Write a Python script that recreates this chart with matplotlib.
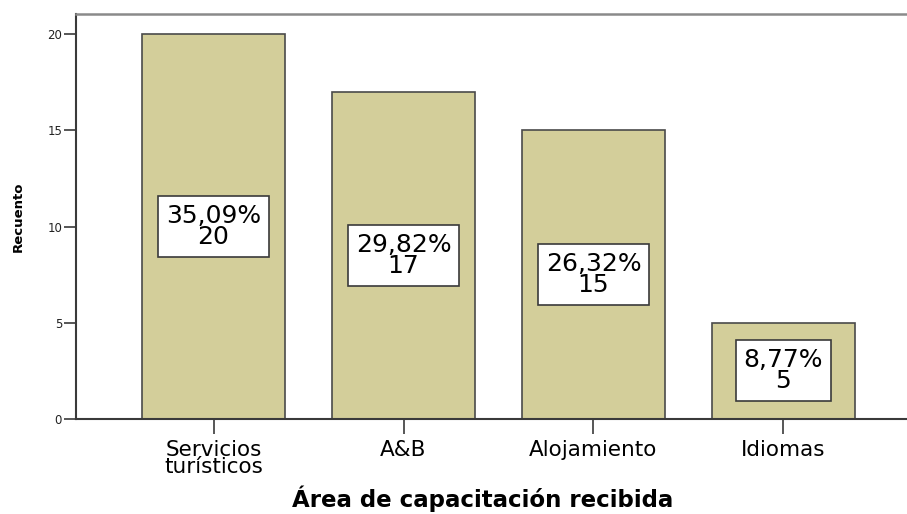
import matplotlib
matplotlib.use("Agg")
import matplotlib.pyplot as plt

categorias = ["Servicios\nturísticos", "A&B", "Alojamiento", "Idiomas"]
recuento = [20, 17, 15, 5]
porcentajes = ["35,09%", "29,82%", "26,32%", "8,77%"]

# SPSS output uses a wide sans face; DejaVu Sans is the closest in width
plt.rcParams['font.family'] = ['DejaVu Sans']

fig = plt.figure(figsize=(9.07, 5.14), dpi=100)
ax = fig.add_axes([76/907, 1 - 419/514, (921 - 76)/907, (419 - 14)/514])

x = list(range(len(categorias)))
ax.bar(x, recuento, width=0.75, color="#D3CE9A", edgecolor="#4a4a4a", linewidth=1.2, zorder=2)

for xi, v, p in zip(x, recuento, porcentajes):
    ax.text(xi, v / 2, f"{p}\n{v}", ha="center", va="center", fontsize=18,
            linespacing=0.85, zorder=3,
            bbox=dict(boxstyle="square,pad=0.32", facecolor="white", edgecolor="#3a3a3a", linewidth=1.2))

ax.set_xlim(-0.724, 3.724)
ax.set_ylim(0, 21.04)
ax.set_yticks([0, 5, 10, 15, 20])
ax.set_xticks(x)
ax.set_xticklabels(categorias, fontsize=15.5, linespacing=0.8)
ax.tick_params(axis="y", labelsize=8.5, length=9, width=1.2, color="#3a3a3a", labelcolor="#222222", pad=1)
ax.tick_params(axis="x", length=11, width=1.2, color="#3a3a3a", pad=4)

for s in ["left", "bottom"]:
    ax.spines[s].set_color("#3a3a3a")
    ax.spines[s].set_linewidth(1.5)
ax.spines["top"].set_color("#8a8a8a")
ax.spines["top"].set_linewidth(1.8)
ax.spines["right"].set_visible(False)

ax.set_ylabel("Recuento", fontsize=9.5, fontweight="bold", labelpad=16)
ax.set_xlabel("Área de capacitación recibida", fontsize=16.5, fontweight="bold")
ax.xaxis.set_label_coords(0.481, -0.163)

fig.savefig("out.png", dpi=100)
